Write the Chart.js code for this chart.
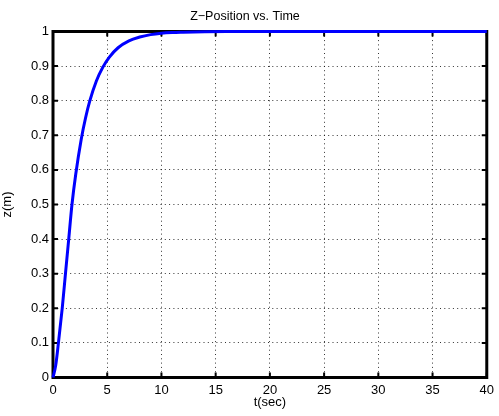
<!DOCTYPE html>
<html>
<head>
<meta charset="utf-8">
<script src="https://cdn.jsdelivr.net/npm/chart.js@4/dist/chart.umd.min.js"></script>
<style>
  html, body { margin: 0; padding: 0; background: #ffffff; }
  #wrap { width: 499px; height: 416px; }
</style>
</head>
<body>
<div id="wrap"><canvas id="c" width="499" height="416"></canvas></div>
<script>
// ---- data ----
const timeValues = [0, 0.25, 0.5, 0.85, 1.15, 1.45, 1.75, 2.1, 2.6, 3.0, 3.4, 4.0, 4.6, 5.2, 6, 7, 8, 9, 10, 11, 12, 14, 16, 20, 25, 30, 35, 40];
const zValues    = [0, 0.035, 0.1, 0.2, 0.3, 0.4, 0.5, 0.588, 0.688, 0.75, 0.8, 0.857, 0.897, 0.926, 0.953, 0.973, 0.984, 0.991, 0.995, 0.997, 0.998, 0.9995, 1, 1, 1, 1, 1, 1];

const xTickValues = [0, 5, 10, 15, 20, 25, 30, 35, 40];
const xTickLabels = ['0', '5', '10', '15', '20', '25', '30', '35', '40'];
const yTickValues = [0, 0.1, 0.2, 0.3, 0.4, 0.5, 0.6, 0.7, 0.8, 0.9, 1];
const yTickLabels = ['0', '0.1', '0.2', '0.3', '0.4', '0.5', '0.6', '0.7', '0.8', '0.9', '1'];

const chartTitle = 'Z\u2212Position vs. Time';
const xTitle = 't(sec)';
const yTitle = 'z(m)';

const FONT = '"Liberation Sans", Arial, Helvetica, sans-serif';

const points = timeValues.map((t, i) => ({ x: t, y: zValues[i] }));

// box + inward tick marks, positioned through the chart's own scales
const boxPlugin = {
  id: 'matlabBox',
  beforeDatasetsDraw(chart) {
    const { ctx, chartArea: a, scales } = chart;
    ctx.save();
    ctx.strokeStyle = '#000';
    ctx.lineWidth = 2;
    ctx.beginPath();
    const tl = 5;
    xTickValues.forEach(v => {
      const px = scales.x.getPixelForValue(v);
      ctx.moveTo(px, a.bottom); ctx.lineTo(px, a.bottom - tl);
      ctx.moveTo(px, a.top); ctx.lineTo(px, a.top + tl);
    });
    yTickValues.forEach(v => {
      const py = scales.y.getPixelForValue(v);
      ctx.moveTo(a.left, py); ctx.lineTo(a.left + tl, py);
      ctx.moveTo(a.right, py); ctx.lineTo(a.right - tl, py);
    });
    ctx.stroke();
    ctx.lineWidth = 3;
    ctx.strokeRect(a.left, a.top, a.right - a.left, a.bottom - a.top);
    ctx.restore();
  }
};

new Chart(document.getElementById('c'), {
  type: 'line',
  data: {
    datasets: [{
      data: points,
      borderColor: '#0000ff',
      borderWidth: 3,
      pointRadius: 0,
      fill: false,
      cubicInterpolationMode: 'monotone',
      clip: 4
    }]
  },
  options: {
    responsive: false,
    animation: false,
    devicePixelRatio: 1,
    layout: { padding: { left: 0, right: 9, top: 0, bottom: 0 } },
    plugins: {
      legend: { display: false },
      tooltip: { enabled: false },
      title: {
        display: true,
        text: chartTitle,
        color: '#000',
        font: { family: FONT, size: 12.5, weight: 'normal', lineHeight: 1.2 },
        padding: { top: 9, bottom: 7.5 }
      }
    },
    scales: {
      x: {
        type: 'linear',
        min: 0, max: 40,
        afterBuildTicks(scale) { scale.ticks = xTickValues.map(v => ({ value: v })); },
        afterFit(scale) { scale.height = 38.5; },
        ticks: {
          color: '#000',
          padding: 5,
          maxRotation: 0,
          autoSkip: false,
          font: { family: FONT, size: 13 },
          callback: (v, i) => xTickLabels[i]
        },
        grid: { color: 'rgba(0,0,0,0.8)', lineWidth: 1, drawTicks: false },
        border: { display: false, dash: [1, 3.3] },
        title: {
          display: true, text: xTitle, color: '#000',
          font: { family: FONT, size: 13, lineHeight: 1.2 },
          padding: { top: 0, bottom: 6 }
        }
      },
      y: {
        type: 'linear',
        min: 0, max: 1,
        afterBuildTicks(scale) { scale.ticks = yTickValues.map(v => ({ value: v })); },
        afterFit(scale) { scale.width = 53; },
        ticks: {
          color: '#000',
          padding: 4,
          autoSkip: false,
          font: { family: FONT, size: 13 },
          callback: (v, i) => yTickLabels[i]
        },
        grid: { color: 'rgba(0,0,0,0.8)', lineWidth: 1, drawTicks: false },
        border: { display: false, dash: [1, 3.3] },
        title: {
          display: true, text: yTitle, color: '#000',
          font: { family: FONT, size: 13, lineHeight: 1.2 },
          padding: { top: 0, bottom: 4 }
        }
      }
    }
  },
  plugins: [boxPlugin]
});
</script>
</body>
</html>
